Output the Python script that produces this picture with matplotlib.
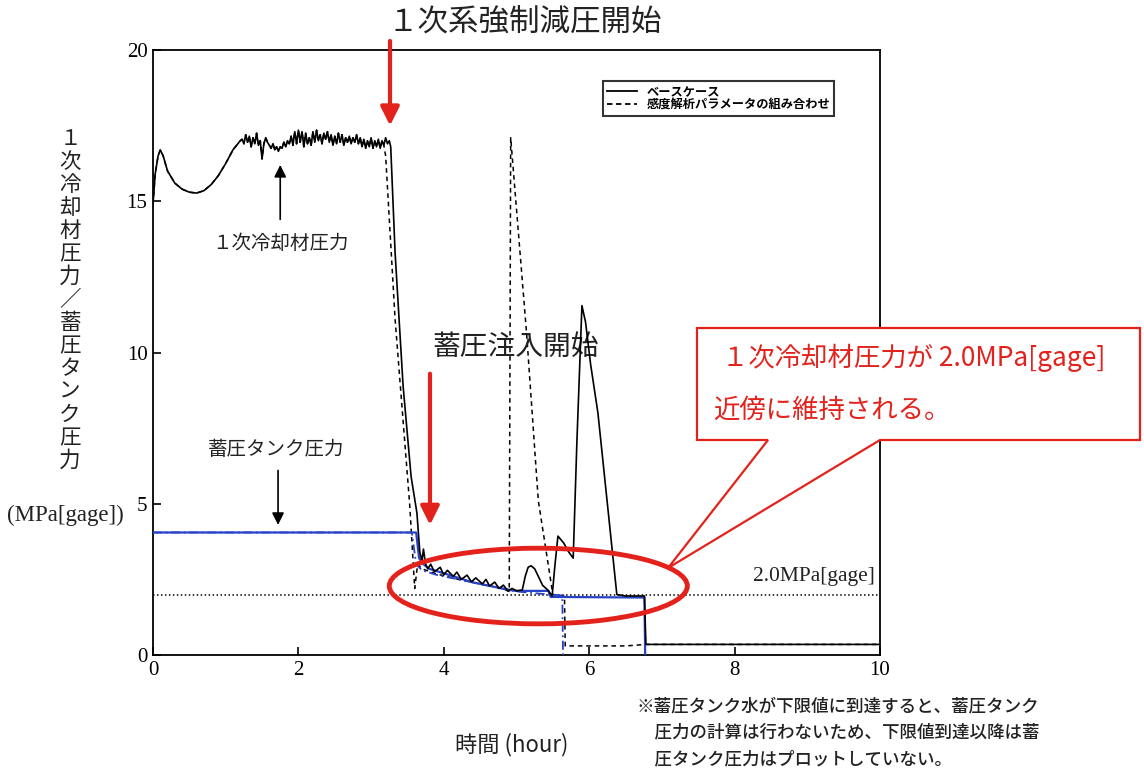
import matplotlib
matplotlib.use("Agg")
import matplotlib.pyplot as plt
from matplotlib.patches import Ellipse, Polygon
from matplotlib.lines import Line2D

plt.rcParams['font.family'] = ['Noto Sans CJK JP', 'DejaVu Sans']

# ---- data -------------------------------------------------------------
# Base case primary coolant pressure (MPa[gage]) vs time (hour)
base_time = [0.0, 0.03, 0.07, 0.10, 0.14, 0.20, 0.30, 0.40, 0.50, 0.60, 0.70,
             0.80, 0.90, 1.00, 1.10, 1.20,
             1.225, 1.25, 1.275, 1.30, 1.325, 1.35, 1.375, 1.40, 1.425, 1.45,
             1.475, 1.50, 1.525, 1.55, 1.575, 1.60, 1.625, 1.65, 1.675, 1.70,
             1.725, 1.75, 1.775, 1.80, 1.825, 1.85, 1.875, 1.90, 1.925, 1.95,
             1.975, 2.00, 2.025, 2.05, 2.075, 2.10, 2.125, 2.15, 2.175, 2.20,
             2.225, 2.25, 2.275, 2.30, 2.325, 2.35, 2.375, 2.40, 2.425, 2.45,
             2.475, 2.50, 2.525, 2.55, 2.575, 2.60, 2.625, 2.65, 2.675, 2.70,
             2.725, 2.75, 2.775, 2.80, 2.825, 2.85, 2.875, 2.90, 2.925, 2.95,
             2.975, 3.00, 3.025, 3.05, 3.075, 3.10, 3.125, 3.15, 3.175, 3.20,
             3.225, 3.25,
             3.27, 3.33, 3.44, 3.55, 3.63, 3.67, 3.70, 3.72, 3.75, 3.78,
             3.82, 3.87, 3.95, 4.00, 4.05, 4.13, 4.18, 4.24, 4.32, 4.38,
             4.44, 4.53, 4.58, 4.63, 4.70, 4.76, 4.82, 4.88, 4.94, 5.00,
             5.08, 5.12, 5.16, 5.20, 5.25, 5.30, 5.36, 5.43, 5.49, 5.53,
             5.57, 5.65, 5.72, 5.78, 5.83, 5.90, 5.95, 6.02, 6.12, 6.25,
             6.38, 6.50, 6.60, 6.76, 6.78, 7.50, 8.50, 10.0]
base_press = [14.9, 15.9, 16.5, 16.7, 16.5, 16.0, 15.6, 15.4, 15.3, 15.27, 15.35,
              15.55, 15.85, 16.25, 16.7, 17.0,
              17.05, 16.9, 17.2, 16.95, 17.15, 16.8, 17.1, 16.9, 17.25, 16.85,
              17.0, 16.4, 16.9, 17.1, 16.95, 16.85, 16.75, 16.9, 16.7, 16.8,
              16.65, 16.8, 16.75, 16.95, 16.8, 17.0, 16.9, 17.15, 16.85, 17.3,
              16.9, 17.35, 16.95, 17.3, 16.8, 17.25, 16.9, 17.1, 16.85, 17.3,
              16.95, 17.35, 17.0, 17.2, 16.9, 17.25, 17.05, 17.3, 16.95, 17.2,
              16.85, 17.15, 16.9, 17.25, 16.95, 17.2, 16.85, 17.1, 16.95, 17.15,
              16.9, 17.1, 16.95, 17.2, 16.9, 17.1, 16.8, 17.05, 16.75, 17.0,
              16.8, 17.1, 16.75, 17.0, 16.8, 17.05, 16.75, 17.0, 16.85, 17.1,
              16.9, 17.0,
              16.8, 13.3, 8.9, 5.9, 4.7, 3.4, 3.1, 3.5, 3.0, 2.85,
              3.0, 2.75, 2.9, 2.65, 2.8, 2.6, 2.74, 2.5, 2.64, 2.42,
              2.55, 2.35, 2.5, 2.28, 2.41, 2.2, 2.31, 2.12, 2.2, 2.12,
              2.15, 2.6, 2.9, 2.95, 2.85, 2.6, 2.3, 2.15, 1.95, 3.0,
              3.93, 3.7, 3.4, 3.2, 7.0, 11.55, 11.0, 9.6, 8.0, 5.0,
              2.0, 1.95, 1.95, 1.95, 0.35, 0.35, 0.35, 0.35]

# Sensitivity-parameter combination (shares the base path up to 3.2 h)
sens_time_late = [3.20, 3.33, 3.53, 3.60, 3.64, 3.70, 3.90, 4.20, 4.50, 4.80,
                  4.90, 4.92, 5.14, 5.30, 5.50, 5.60, 5.66,
                  5.67, 6.50, 6.78, 10.0]
sens_press_late = [16.5, 11.1, 5.0, 2.2, 3.0, 2.85, 2.68, 2.5, 2.35, 2.2,
                   2.1, 17.1, 10.6, 5.1, 2.0, 1.95, 1.95,
                   0.3, 0.3, 0.35, 0.35]

# Accumulator tank pressure, base case
acc_time = [0.0, 3.62, 3.66, 3.72, 3.80, 4.00, 4.20, 4.40, 4.60, 4.80, 4.90,
            5.00, 5.44, 5.47, 6.76, 6.77]
acc_press = [4.05, 4.05, 3.2, 3.0, 2.85, 2.7, 2.55, 2.4, 2.3, 2.2, 2.15,
             2.12, 2.12, 1.92, 1.9, 0.0]

# Accumulator tank pressure, sensitivity case
acc_sens_time = [0.0, 3.56, 3.62, 3.70, 3.90, 4.20, 4.50, 4.80, 5.00, 5.45,
                 5.63, 5.64]
acc_sens_press = [4.05, 4.05, 3.0, 2.8, 2.65, 2.5, 2.35, 2.2, 2.1, 2.0,
                  1.97, 0.0]

ref_level = 2.0
x_ticks = [0, 2, 4, 6, 8, 10]
y_ticks = [0, 5, 10, 15, 20]

sens_time = [t for t in base_time if t < 3.2] + sens_time_late
sens_press = [p for t, p in zip(base_time, base_press) if t < 3.2] + sens_press_late

# ---- figure -----------------------------------------------------------
W, H = 1144, 773
fig = plt.figure(figsize=(W / 100, H / 100), dpi=100)
ax = fig.add_axes([153 / W, 1 - 655 / H, 727 / W, 605 / H])

red = '#e3221c'
blue = '#2742c8'
ink = '#222222'

def fx(px):
    return px / W

def fy(py):
    return 1 - py / H

ax.axhline(ref_level, color='black', lw=1.1, ls=(0, (1, 1.6)), zorder=1)
ax.plot(sens_time, sens_press, color='black', lw=1.1, ls=(0, (3, 2.5)), zorder=2)
ax.plot(acc_sens_time, acc_sens_press, color=blue, lw=1.3, ls=(0, (5, 2, 1, 2)), zorder=3)
ax.plot(acc_time, acc_press, color=blue, lw=1.6, zorder=4)
ax.plot(base_time, base_press, color='black', lw=1.2, zorder=5)

ax.set_xlim(0, 10)
ax.set_ylim(0, 20)
ax.set_xticks(x_ticks)
ax.set_yticks(y_ticks)
ax.tick_params(direction='in', length=6, width=1.2, labelsize=15, pad=4)
for lab in ax.get_xticklabels() + ax.get_yticklabels():
    lab.set_family('Liberation Serif')
for s in ax.spines.values():
    s.set_linewidth(1.3)

# legend
handles = [Line2D([], [], color='black', lw=1.3),
           Line2D([], [], color='black', lw=1.3, ls=(0, (3, 2)))]
leg = ax.legend(handles, ['ベースケース', '感度解析パラメータの組み合わせ'],
                loc='upper left', bbox_to_anchor=(0.619, 0.948),
                prop={'family': ['Noto Sans CJK JP'], 'size': 8.8, 'weight': 'bold'},
                frameon=True, fancybox=False, edgecolor='black',
                handlelength=2.4, labelspacing=0.0, borderpad=0.35,
                handletextpad=0.8, borderaxespad=0)
leg.get_frame().set_linewidth(1.5)

# event arrows and labels
ax.annotate('', xy=(3.26, 17.5), xytext=(3.26, 20.3), annotation_clip=False,
            arrowprops=dict(arrowstyle='-|>', color=red, lw=3, mutation_scale=28,
                            shrinkA=0, shrinkB=0))
ax.text(5.12, 20.9, '１次系強制減圧開始', fontsize=22, ha='center', va='center',
        color=ink, clip_on=False)

ax.annotate('', xy=(3.81, 4.3), xytext=(3.81, 9.3),
            arrowprops=dict(arrowstyle='-|>', color=red, lw=3, mutation_scale=28,
                            shrinkA=0, shrinkB=0))
ax.text(4.99, 10.18, '蓄圧注入開始', fontsize=20, ha='center', va='center',
        color=ink)

ax.annotate('', xy=(1.75, 16.2), xytext=(1.75, 14.4),
            arrowprops=dict(arrowstyle='-|>', color='black', lw=1.2, mutation_scale=18,
                            shrinkA=0, shrinkB=0))
ax.text(1.75, 13.6, '１次冷却材圧力', fontsize=14, ha='center', va='center',
        color=ink)

ax.annotate('', xy=(1.72, 4.3), xytext=(1.72, 6.1),
            arrowprops=dict(arrowstyle='-|>', color='black', lw=1.2, mutation_scale=18,
                            shrinkA=0, shrinkB=0))
ax.text(1.69, 6.78, '蓄圧タンク圧力', fontsize=14, ha='center', va='center',
        color=ink)

ax.text(9.93, 2.58, '2.0MPa[gage]', fontsize=15.5, ha='right', va='center',
        color=ink, family=['Liberation Serif'])

# region of interest
ax.add_patch(Ellipse((5.3, 2.28), 4.1, 2.5, fill=False, edgecolor=red, lw=3.5,
                     zorder=6))

# callout box
call = [(697, 328), (1140, 328), (1140, 440), (880, 440), (668, 568),
        (768, 440), (697, 440)]
fig.patches.append(Polygon([(fx(x), fy(y)) for x, y in call], closed=True,
                           transform=fig.transFigure, facecolor='white',
                           edgecolor=red, lw=1.6, zorder=10))
fig.text(fx(722), fy(358), '１次冷却材圧力が 2.0MPa[gage]', fontsize=19, color=red,
         ha='left', va='center', zorder=11)
fig.text(fx(713), fy(410), '近傍に維持される。', fontsize=19, color=red,
         ha='left', va='center', zorder=11)

# y-axis label, written vertically
ylab = '１次冷却材圧力／蓄圧タンク圧力'
for i, ch in enumerate(ylab):
    fig.text(fx(70), fy(139 + i * 23.0), ch, fontsize=15.5, ha='center', va='center',
             color=ink)
fig.text(fx(65), fy(515), '(MPa[gage])', fontsize=16.5, ha='center', va='center',
         color=ink, family=['Liberation Serif'])

# x-axis label
fig.text(fx(512), fy(745), '時間 (hour)', fontsize=16, ha='center', va='center',
         color=ink)

# footnote
note = ['※蓄圧タンク水が下限値に到達すると、蓄圧タンク',
        '\u3000圧力の計算は行わないため、下限値到達以降は蓄',
        '\u3000圧タンク圧力はプロットしていない。']
for i, line in enumerate(note):
    fig.text(fx(637), fy(706 + i * 26.5), line, fontsize=12.6, ha='left', va='center',
             color=ink, weight='medium')

fig.savefig('out.png', dpi=100)
